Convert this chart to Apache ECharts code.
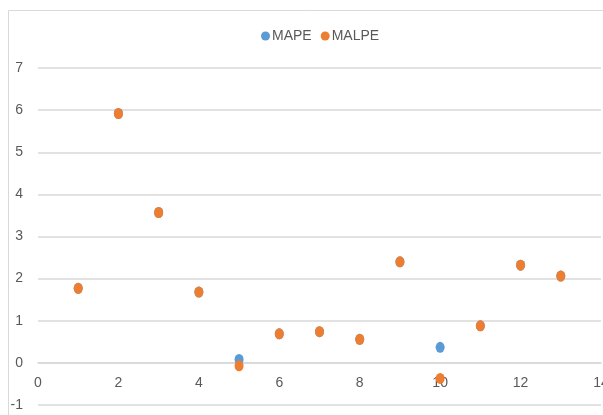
<!DOCTYPE html>
<html><head><meta charset="utf-8">
<script src="https://cdn.jsdelivr.net/npm/echarts@6/dist/echarts.min.js"></script>
<style>html,body{margin:0;padding:0;background:#fff}#c{width:603px;height:415px}</style>
</head><body><div id="c"></div>
<script>
const xValues = [1, 2, 3, 4, 5, 6, 7, 8, 9, 10, 11, 12, 13];
const mape  = [1.77, 5.92, 3.57, 1.68, 0.08, 0.69, 0.74, 0.56, 2.40, 0.37, 0.88, 2.32, 2.06];
const malpe = [1.77, 5.92, 3.57, 1.68, -0.07, 0.69, 0.74, 0.56, 2.40, -0.37, 0.88, 2.32, 2.06];
const seriesNames = ['MAPE', 'MALPE'];

const FONT = '"Liberation Sans Narrow", "Arial Narrow", "Liberation Sans", sans-serif';
const chart = echarts.init(document.getElementById('c'), null, {renderer: 'canvas'});
chart.setOption({
  animation: false,
  backgroundColor: '#fff',
  graphic: [{
    type: 'polyline', silent: true,
    shape: {points: [[8.5, 415], [8.5, 10.5], [603, 10.5]]},
    style: {stroke: '#d9d9d9', lineWidth: 1, fill: null}
  }],
  legend: {
    data: seriesNames,
    top: 24, left: 256,
    icon: 'circle', itemWidth: 9, itemHeight: 9, itemGap: 9,
    textStyle: {fontFamily: FONT, fontSize: 14, color: '#595959', padding: [0, 0, 0, -3]}
  },
  grid: {left: 38, right: 2, top: 68, bottom: 10, containLabel: false, outerBoundsMode: 'none'},
  xAxis: {
    type: 'value', min: 0, max: 14, interval: 2,
    position: 'bottom', offset: -42,
    axisLine: {onZero: false, lineStyle: {color: '#d9d9d9', width: 1.5}},
    axisTick: {show: false},
    splitLine: {show: false},
    axisLabel: {fontFamily: FONT, fontSize: 14, color: '#595959', margin: 13, showMaxLabel: true, hideOverlap: false}
  },
  yAxis: {
    type: 'value', min: -1, max: 7, interval: 1,
    axisLine: {show: false}, axisTick: {show: false},
    splitLine: {lineStyle: {color: '#d9d9d9', width: 1.5}},
    axisLabel: {fontFamily: FONT, fontSize: 14, color: '#595959', margin: 15}
  },
  series: [
    {name: seriesNames[0], type: 'scatter', symbolSize: [9, 11], itemStyle: {color: '#5B9BD5', opacity: 1},
     data: xValues.map((x, i) => [x, mape[i]]), z: 2},
    {name: seriesNames[1], type: 'scatter', symbolSize: [9, 11], itemStyle: {color: '#ED7D31', opacity: 1},
     data: xValues.map((x, i) => [x, malpe[i]]), z: 3}
  ]
});
</script></body></html>
